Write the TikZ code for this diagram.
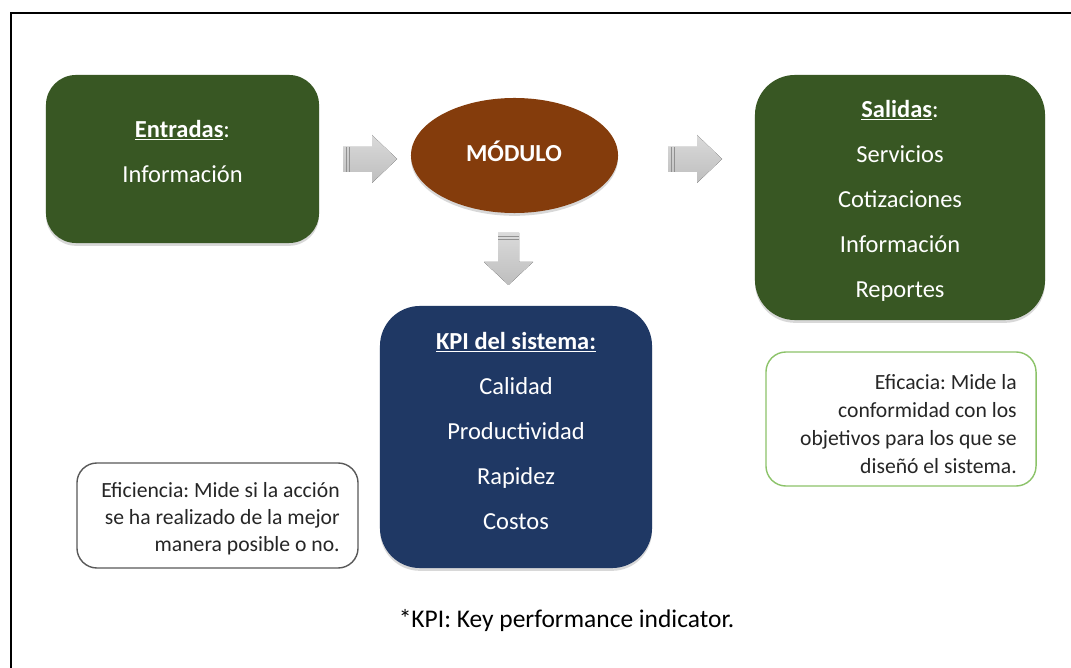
\documentclass[tikz,border=0pt]{standalone}
\usepackage{fontspec}
\setmainfont{Carlito}
\frenchspacing
\usetikzlibrary{shadows,shapes.geometric}
\definecolor{boxgreen}{RGB}{56,87,35}
\definecolor{kpiblue}{RGB}{31,56,100}
\definecolor{modbrown}{RGB}{132,60,12}
\definecolor{lightgreen}{RGB}{140,195,105}
\definecolor{bordergray}{RGB}{89,89,89}
\definecolor{txtdark}{RGB}{38,38,38}
\definecolor{arrowtop}{RGB}{218,218,218}
\definecolor{arrowbot}{RGB}{190,190,190}
\definecolor{arrowdark}{RGB}{145,145,145}
\begin{document}
\begin{tikzpicture}[x=0.025cm,y=-0.025cm,
  bigbox/.style={draw=none, rectangle, inner sep=0pt,
    drop shadow={shadow xshift=0pt,shadow yshift=-2pt,opacity=0.3}},
  smallbox/.style={rectangle, rounded corners=0.5cm, fill=white, line width=1pt, inner sep=0pt},
  bigtxt/.style={text=white, align=center, inner sep=0pt, font=\fontsize{17.4}{32}\selectfont},
  smalltxt/.style={text=txtdark, align=right, anchor=east, inner sep=0pt},
  blockarrow/.style={draw=none, top color=arrowtop, bottom color=arrowbot},
  stripe/.style={draw=arrowdark, line width=0.7pt}
]
\useasboundingbox (0,0) rectangle (1071,668);
\clip (0,0) rectangle (1071,668);
\fill[white] (0,0) rectangle (1071,668);
% outer frame
\draw[line width=1.4pt, black] (11,13) rectangle (1090,690);

% boxes
\node[bigbox, fill=boxgreen, rounded corners=0.75cm, minimum width=6.825cm, minimum height=4.2cm] (entradas) at (182.5,159) {};
\node[bigbox, fill=boxgreen, rounded corners=1cm, minimum width=7.25cm, minimum height=6.125cm] (salidas) at (900,197.5) {};
\node[bigbox, fill=kpiblue, rounded corners=1cm, minimum width=6.8cm, minimum height=6.55cm] (kpi) at (516,437) {};
\node[bigbox, ellipse, fill=modbrown, minimum width=5.175cm, minimum height=2.875cm] (modulo) at (514.5,155.5) {};
\node[smallbox, draw=bordergray, minimum width=7.025cm, minimum height=2.625cm] (eficiencia) at (217.5,515.5) {};
\node[smallbox, draw=lightgreen, minimum width=6.75cm, minimum height=3.35cm] (eficacia) at (901,419) {};

% texts
\node[bigtxt] (enttxt) at (182.5,151.5) {\underline{\textbf{Entradas}}:\\Información};
\node[bigtxt] (modtxt) at (514,151) {\textbf{MÓDULO}};
\node[bigtxt] (saltxt) at (900,200.5) {\underline{\textbf{Salidas}}:\\Servicios\\Cotizaciones\\Información\\Reportes};
\node[bigtxt] (kpitxt) at (516,431) {\underline{\textbf{KPI del sistema:}}\\Calidad\\Productividad\\Rapidez\\Costos};
\node[smalltxt, font=\fontsize{15.4}{19.2}\selectfont] (efitxt) at (340,519) {Eficiencia: Mide si la acción\\se ha realizado de la mejor\\manera posible o no.};
\node[smalltxt, font=\fontsize{15.4}{19.9}\selectfont] (efctxt) at (1017,424) {Eficacia: Mide la\\conformidad con los\\objetivos para los que se\\diseñó el sistema.};
\node[inner sep=0pt, text=black, font=\fontsize{18.1}{22}\selectfont] (caption) at (566.5,621) {*KPI: Key performance indicator.};

% block arrows
\fill[blockarrow] (343,147) -- (372,147) -- (372,135) -- (397,159) -- (372,183) -- (372,172) -- (343,172) -- cycle;
\draw[stripe] (346,147) -- (346,172);
\draw[stripe] (349,147) -- (349,172);
\fill[blockarrow] (668,147) -- (697,147) -- (697,135) -- (722,159) -- (697,183) -- (697,172) -- (668,172) -- cycle;
\draw[stripe] (671,147) -- (671,172);
\draw[stripe] (674,147) -- (674,172);
\fill[blockarrow] (498,233) -- (498,262) -- (484,262) -- (508.5,285) -- (533,262) -- (519,262) -- (519,233) -- cycle;
\draw[stripe] (498,236) -- (519,236);
\draw[stripe] (498,239) -- (519,239);
\end{tikzpicture}
\end{document}
